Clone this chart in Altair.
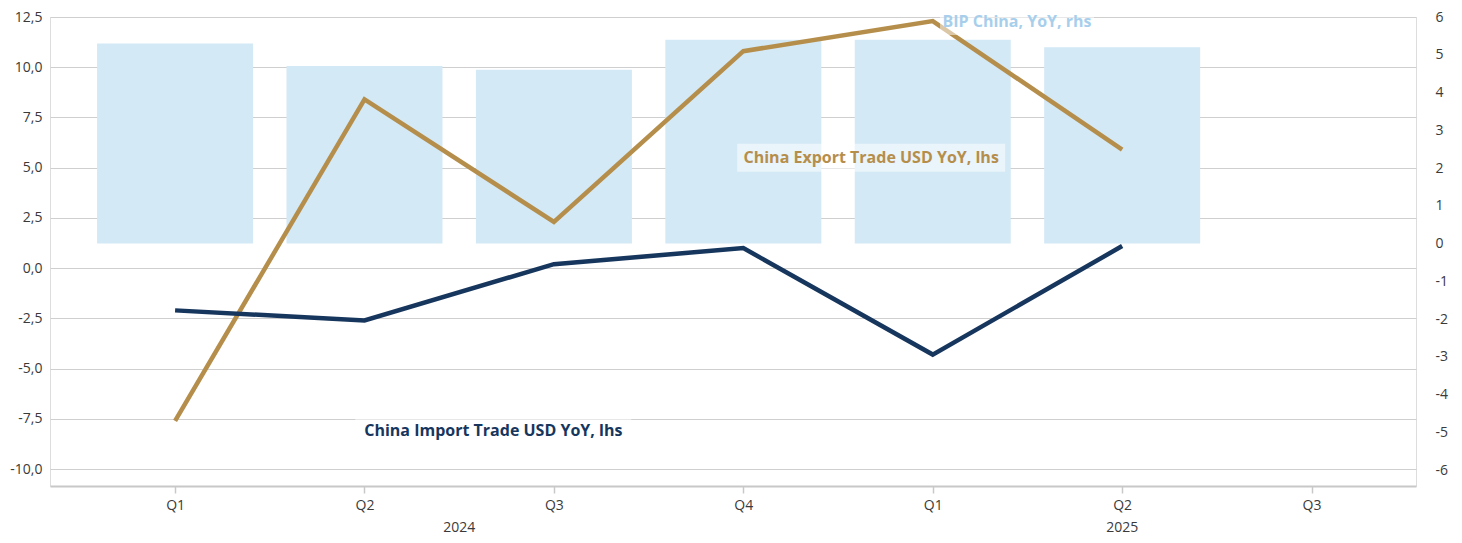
import altair as alt
import pandas as pd

# ---------------- data ----------------
quarters = ["Q1 2024", "Q2 2024", "Q3 2024", "Q4 2024", "Q1 2025", "Q2 2025"]
gdp_yoy = [5.3, 4.7, 4.6, 5.4, 5.4, 5.2]                 # BIP China, YoY, rhs
export_yoy = [-7.6, 8.4, 2.3, 10.8, 12.3, 5.9]           # China Export Trade USD YoY, lhs
import_yoy = [-2.1, -2.6, 0.2, 1.0, -4.3, 1.1]           # China Import Trade USD YoY, lhs
tick_labels = ["Q1", "Q2", "Q3", "Q4", "Q1", "Q2", "Q3"]
year_labels = ["2024", "2025"]
year_label_pos = [1.5, 5.0]          # centre of each year's quarter ticks (category index)

series_names = ["China Export Trade USD YoY, lhs", "China Import Trade USD YoY, lhs"]
series_colors = ["#B68E4B", "#17365D"]
bar_color = "#D3E9F6"
bip_color = "#A7CFEC"

ann_text = ["BIP China, YoY, rhs", "China Export Trade USD YoY, lhs", "China Import Trade USD YoY, lhs"]
ann_pos = [4.445, 3.675, 1.68]
ann_value = [12.25, 5.5, -8.1]
ann_color = [bip_color, series_colors[0], series_colors[1]]
ann_box_w = [154, 268, 276]
ann_box_h = [26, 28, 30]

# ---------------- tables ----------------
idx = list(range(len(quarters)))
bars_df = pd.DataFrame({"i": idx, "quarter": quarters, "gdp": gdp_yoy})
lines_df = pd.DataFrame({
    "i": idx * 2,
    "quarter": quarters * 2,
    "series": [series_names[0]] * 6 + [series_names[1]] * 6,
    "value": export_yoy + import_yoy,
})
years_df = pd.DataFrame({"i": year_label_pos, "label": year_labels})
ann_df = pd.DataFrame({"i": ann_pos, "value": ann_value, "text": ann_text, "color": ann_color})

FONT = "Open Sans"
LABEL_COLOR = "#3a3a3a"
GRID = "#cfcfcf"

label_array = "[" + ",".join(f"'{t}'" for t in tick_labels) + "]"
x_scale = alt.Scale(domain=[-0.634, 6.525], nice=False, zero=False)
x_axis = alt.Axis(
    values=list(range(len(tick_labels))),
    labelExpr=f"{label_array}[datum.value]",
    grid=False, domainColor="#c8c8c8", domainWidth=2, tickColor="#c8c8c8",
    tickWidth=1.5, tickSize=7, labelPadding=5, labelFontSize=14, labelColor=LABEL_COLOR,
    labelFont=FONT, title=None,
)
X = alt.X("i:Q", scale=x_scale, axis=x_axis, title=None)

left_scale = alt.Scale(domain=[-10.84, 12.5], nice=False, zero=False)
left_axis = alt.Axis(
    values=[-10, -7.5, -5, -2.5, 0, 2.5, 5, 7.5, 10, 12.5],
    labelExpr="replace(replace(format(datum.value, '.1f'), '.', ','), '\u2212', '-')",
    grid=True, gridColor=GRID, gridWidth=1, ticks=False, domain=False,
    labelPadding=8, labelFontSize=14, labelColor=LABEL_COLOR, labelFont=FONT, title=None,
)
right_scale = alt.Scale(domain=[-6.42, 6], nice=False, zero=False)
right_axis = alt.Axis(
    orient="right", values=list(range(-6, 7)),
    labelExpr="replace(format(datum.value, 'd'), '\u2212', '-')",
    grid=False, ticks=False, domain=False, labelPadding=19, labelFontSize=14,
    labelColor=LABEL_COLOR, labelFont=FONT, labelAlign="left", title=None,
)
Y_LEFT = alt.Y("value:Q", scale=left_scale, axis=left_axis, title=None)

bars = alt.Chart(bars_df).mark_bar(width=156, color=bar_color).encode(
    x=X,
    y=alt.Y("gdp:Q", scale=right_scale, axis=right_axis, title=None),
)

lines = alt.Chart(lines_df).mark_line(strokeWidth=4.5).encode(
    x=X,
    y=Y_LEFT,
    color=alt.Color("series:N", scale=alt.Scale(domain=series_names, range=series_colors), legend=None),
    order=alt.Order("i:Q"),
)

boxes = [
    alt.Chart(ann_df).transform_filter(alt.datum.text == t).mark_rect(
        color="white", opacity=0.5, width=w, height=h
    ).encode(x=X, y=Y_LEFT)
    for t, w, h in zip(ann_text, ann_box_w, ann_box_h)
]

texts = alt.Chart(ann_df).mark_text(
    font=FONT, fontWeight="bold", fontSize=16, align="center", baseline="middle"
).encode(
    x=X,
    y=Y_LEFT,
    text="text:N",
    color=alt.Color("color:N", scale=None, legend=None),
)

years = alt.Chart(years_df).mark_text(
    font=FONT, fontSize=14, color=LABEL_COLOR, baseline="middle", align="center"
).encode(
    x=X,
    y=alt.value(511),
    text="label:N",
)

left_layer = alt.layer(lines, *boxes, texts, years)

chart = alt.layer(bars, left_layer).resolve_scale(y="independent").properties(
    width=1366, height=469,
    autosize=alt.AutoSizeParams(type="none"),
    padding={"left": 42, "top": 9, "right": 38, "bottom": 49},
).configure_view(stroke=None).configure(font=FONT)

chart.save("out.html", embed_options={"renderer": "svg", "actions": False})
